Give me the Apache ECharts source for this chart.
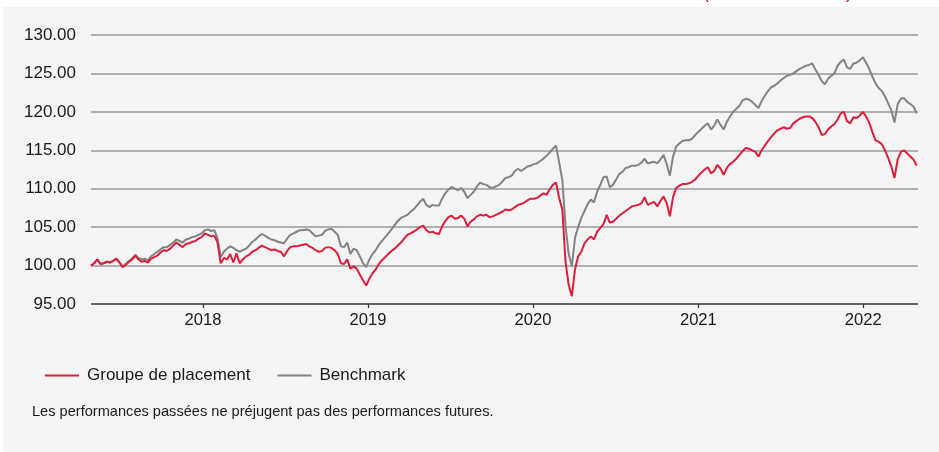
<!DOCTYPE html>
<html>
<head>
<meta charset="utf-8">
<script src="https://cdn.jsdelivr.net/npm/echarts@6/dist/echarts.min.js"></script>
<style>
  html, body { margin: 0; padding: 0; background: #ffffff; }
  #chart { width: 939px; height: 452px; }
</style>
</head>
<body>
<div id="chart"></div>
<script>
// Weekly closes, indexed to 100 at the start date
const startDate = '2017-04-28';
const stepDays = 7;

const fund = [
  100.0, 100.3, 100.8, 100.2, 100.3, 100.5, 100.4, 100.6, 100.9, 100.4,
  99.8, 100.1, 100.5, 100.8, 101.3, 100.8, 100.5, 100.6, 100.4, 100.9,
  101.1, 101.3, 101.7, 102.0, 101.9, 102.2, 102.6, 103.0, 102.7, 102.4,
  102.8, 102.9, 103.1, 103.2, 103.5, 103.7, 104.2, 104.0, 103.8, 103.9,
  103.0, 100.3, 101.0, 100.8, 101.5, 100.4, 101.6, 100.3, 100.8, 101.2,
  101.4, 101.8, 102.0, 102.3, 102.6, 102.4, 102.2, 102.0, 102.1, 101.9,
  101.8, 101.2, 101.9, 102.4, 102.5, 102.5, 102.6, 102.7, 102.8, 102.5,
  102.3, 102.0, 101.8, 101.9, 102.3, 102.4, 102.3, 102.0, 101.5, 100.3,
  100.2, 100.8, 99.6, 99.9, 99.6, 98.8, 98.1, 97.4, 98.3, 99.0,
  99.5, 100.2, 100.7, 101.1, 101.5, 101.9, 102.2, 102.6, 103.0, 103.5,
  104.0, 104.2, 104.4, 104.7, 105.0, 105.2, 104.6, 104.3, 104.4, 104.2,
  104.1, 105.1, 105.8, 106.3, 106.5, 106.1, 106.2, 106.5, 106.1, 105.1,
  105.7, 106.0, 106.4, 106.6, 106.5, 106.6, 106.3, 106.4, 106.6, 106.8,
  107.0, 107.3, 107.2, 107.3, 107.6, 107.9, 108.0, 108.2, 108.5, 108.7,
  108.7, 108.8, 109.1, 109.4, 109.2, 109.9, 110.5, 110.8, 108.8, 107.3,
  100.5, 97.5, 96.0, 99.5, 101.2, 101.8, 102.9, 103.4, 103.8, 103.4,
  104.4, 104.9, 105.4, 106.6, 105.6, 105.7, 106.1, 106.5, 106.8, 107.1,
  107.4, 107.7, 107.8, 107.9, 108.1, 108.9, 107.9, 108.1, 108.3, 107.7,
  108.4, 109.0, 108.1, 106.4, 108.9, 110.1, 110.4, 110.6, 110.6, 110.7,
  110.9, 111.2, 111.7, 112.1, 112.5, 112.8, 112.0, 112.3, 113.1, 112.6,
  111.8, 112.7, 113.2, 113.5, 113.9, 114.4, 114.9, 115.3, 115.2, 115.0,
  114.8, 114.2, 115.0, 115.6, 116.2, 116.7, 117.2, 117.6, 117.8, 118.0,
  117.8, 117.9, 118.5, 118.8, 119.1, 119.3, 119.4, 119.4, 119.2, 118.7,
  118.0, 117.0, 117.1, 117.7, 118.1, 118.4, 119.0, 119.8, 120.0, 118.8,
  118.5, 119.3, 119.2, 119.5, 120.0, 119.4, 118.6, 117.4, 116.3, 116.1,
  115.8, 115.0, 114.0, 112.9, 111.4, 113.8, 114.8, 115.0, 114.6, 114.2,
  113.8, 113.0
];

const benchmark = [
  100.0, 100.3, 100.8, 100.2, 100.3, 100.5, 100.4, 100.6, 100.9, 100.4,
  99.9, 100.2, 100.6, 100.9, 101.4, 101.0, 100.8, 100.9, 100.7, 101.2,
  101.5, 101.8, 102.1, 102.4, 102.4, 102.7, 103.0, 103.4, 103.2, 103.0,
  103.4, 103.5, 103.7, 103.8, 104.0, 104.2, 104.6, 104.7, 104.5, 104.6,
  103.5, 101.1, 101.8, 102.2, 102.5, 102.3, 102.0, 101.8, 102.0, 102.2,
  102.6, 103.1, 103.4, 103.8, 104.1, 103.9, 103.6, 103.4, 103.3, 103.1,
  103.0, 102.9, 103.5, 104.0, 104.2, 104.4, 104.6, 104.6, 104.7, 104.6,
  104.2, 103.8, 103.9, 104.0, 104.5, 104.7, 104.8, 104.4, 104.0, 102.5,
  102.4, 103.0, 101.5, 102.2, 102.0, 101.2, 100.3, 99.8, 100.8, 101.5,
  102.0, 102.7, 103.2, 103.7, 104.2, 104.7, 105.3, 105.8, 106.2, 106.4,
  106.6, 107.0, 107.3, 107.8, 108.3, 108.7, 107.9, 107.6, 107.9, 107.8,
  107.8, 108.7, 109.4, 109.9, 110.2, 110.0, 109.8, 110.1, 109.6, 108.8,
  109.2, 109.6, 110.3, 110.8, 110.6, 110.5, 110.2, 110.1, 110.3, 110.5,
  110.9, 111.4, 111.5, 111.7, 112.3, 112.6, 112.3, 112.6, 112.9, 113.0,
  113.2, 113.3, 113.6, 113.9, 114.3, 114.7, 115.2, 115.6, 113.4, 111.1,
  105.2, 101.5, 99.9, 103.6, 105.0, 106.2, 107.1, 108.0, 108.6, 108.2,
  109.6, 110.5, 111.5, 111.6, 110.2, 110.5, 111.2, 111.9, 112.2, 112.7,
  112.8, 113.0, 113.0, 113.1, 113.4, 113.9, 113.3, 113.4, 113.5, 113.3,
  113.8, 114.4, 113.2, 111.7, 114.2, 115.5, 115.9, 116.2, 116.3, 116.3,
  116.5, 117.0, 117.4, 117.8, 118.2, 118.5, 117.7, 118.2, 119.0, 118.3,
  117.7, 118.7, 119.4, 120.0, 120.4, 120.8, 121.5, 121.7, 121.6, 121.3,
  120.9, 120.5, 121.4, 122.1, 122.7, 123.2, 123.4, 123.7, 124.1, 124.4,
  124.7, 124.8, 125.0, 125.3, 125.6, 125.8, 126.0, 126.1, 126.3, 125.5,
  124.8, 124.0, 123.6, 124.3, 124.7, 125.0, 126.0, 126.5, 126.8, 125.8,
  125.6, 126.3, 126.4, 126.7, 127.1, 126.4, 125.6, 124.6, 123.7, 123.1,
  122.7, 122.0, 121.1, 120.2, 118.6, 121.0, 121.7, 121.8, 121.3, 121.0,
  120.7, 119.8
];

const yTicks = [95, 100, 105, 110, 115, 120, 125, 130];
const seriesNames = ['Groupe de placement', 'Benchmark'];
const note = 'Les performances passées ne préjugent pas des performances futures.';

const DAY = 86400000;
const t0 = new Date(startDate + 'T00:00:00Z').getTime();
const dates = fund.map((_, i) => t0 + i * stepDays * DAY);
const fundData = dates.map((d, i) => [d, fund[i]]);
const benchData = dates.map((d, i) => [d, benchmark[i]]);

const RED = '#dc1e3c';
const GREY = '#838383';
const FONT = 'Liberation Sans, Arial, sans-serif';

const chart = echarts.init(document.getElementById('chart'), null, { renderer: 'canvas' });

chart.setOption({
  animation: false,
  backgroundColor: '#ffffff',
  textStyle: { fontFamily: FONT },
  graphic: [
    { type: 'rect', z: -10, silent: true,
      shape: { x: 3, y: 7, width: 936, height: 445 },
      style: { fill: '#f4f4f4' } },
    { type: 'text', z: -5, left: 703, top: -16,
      style: { text: '(', fill: '#c0203f', font: '18px ' + FONT } },
    { type: 'text', z: -5, left: 846, top: -16,
      style: { text: ')', fill: '#c0203f', font: '18px ' + FONT } },
    { type: 'text', left: 32, top: 404,
      style: { text: note, fill: '#1a1a1a', font: '14.6px ' + FONT } }
  ],
  legend: {
    data: seriesNames,
    left: 40,
    top: 362,
    icon: 'rect',
    itemWidth: 34,
    itemHeight: 2,
    itemGap: 27,
    textStyle: { fontSize: 17, color: '#1a1a1a', fontFamily: FONT, padding: [0, 0, 0, 3] }
  },
  grid: { left: 91, right: 21, top: 35, bottom: 148, containLabel: false },
  xAxis: {
    type: 'time',
    min: startDate,
    max: '2022-05-02',
    minInterval: 365 * DAY,
    maxInterval: 366 * DAY,
    axisLine: { show: false },
    axisTick: { show: true, length: 4, lineStyle: { color: '#333333', width: 1.2 } },
    splitLine: { show: false },
    axisLabel: {
      color: '#1a1a1a', fontSize: 16.6, margin: 8, fontFamily: FONT,
      formatter: v => String(new Date(v).getUTCFullYear())
    }
  },
  yAxis: {
    type: 'value',
    min: yTicks[0],
    max: yTicks[yTicks.length - 1],
    interval: 5,
    axisLine: { show: false },
    axisTick: { show: false },
    splitLine: {
      show: true,
      lineStyle: { color: ['#333333', '#9a9a9a', '#9a9a9a', '#9a9a9a', '#9a9a9a', '#9a9a9a', '#9a9a9a', '#9a9a9a'], width: 1.6 }
    },
    axisLabel: {
      color: '#1a1a1a', fontSize: 17, margin: 15, fontFamily: FONT,
      formatter: v => v.toFixed(2)
    }
  },
  series: [
    { name: seriesNames[1], type: 'line', data: benchData, showSymbol: false,
      lineStyle: { color: GREY, width: 2 }, itemStyle: { color: GREY }, z: 2 },
    { name: seriesNames[0], type: 'line', data: fundData, showSymbol: false,
      lineStyle: { color: RED, width: 2 }, itemStyle: { color: RED }, z: 3 }
  ]
});
</script>
</body>
</html>
